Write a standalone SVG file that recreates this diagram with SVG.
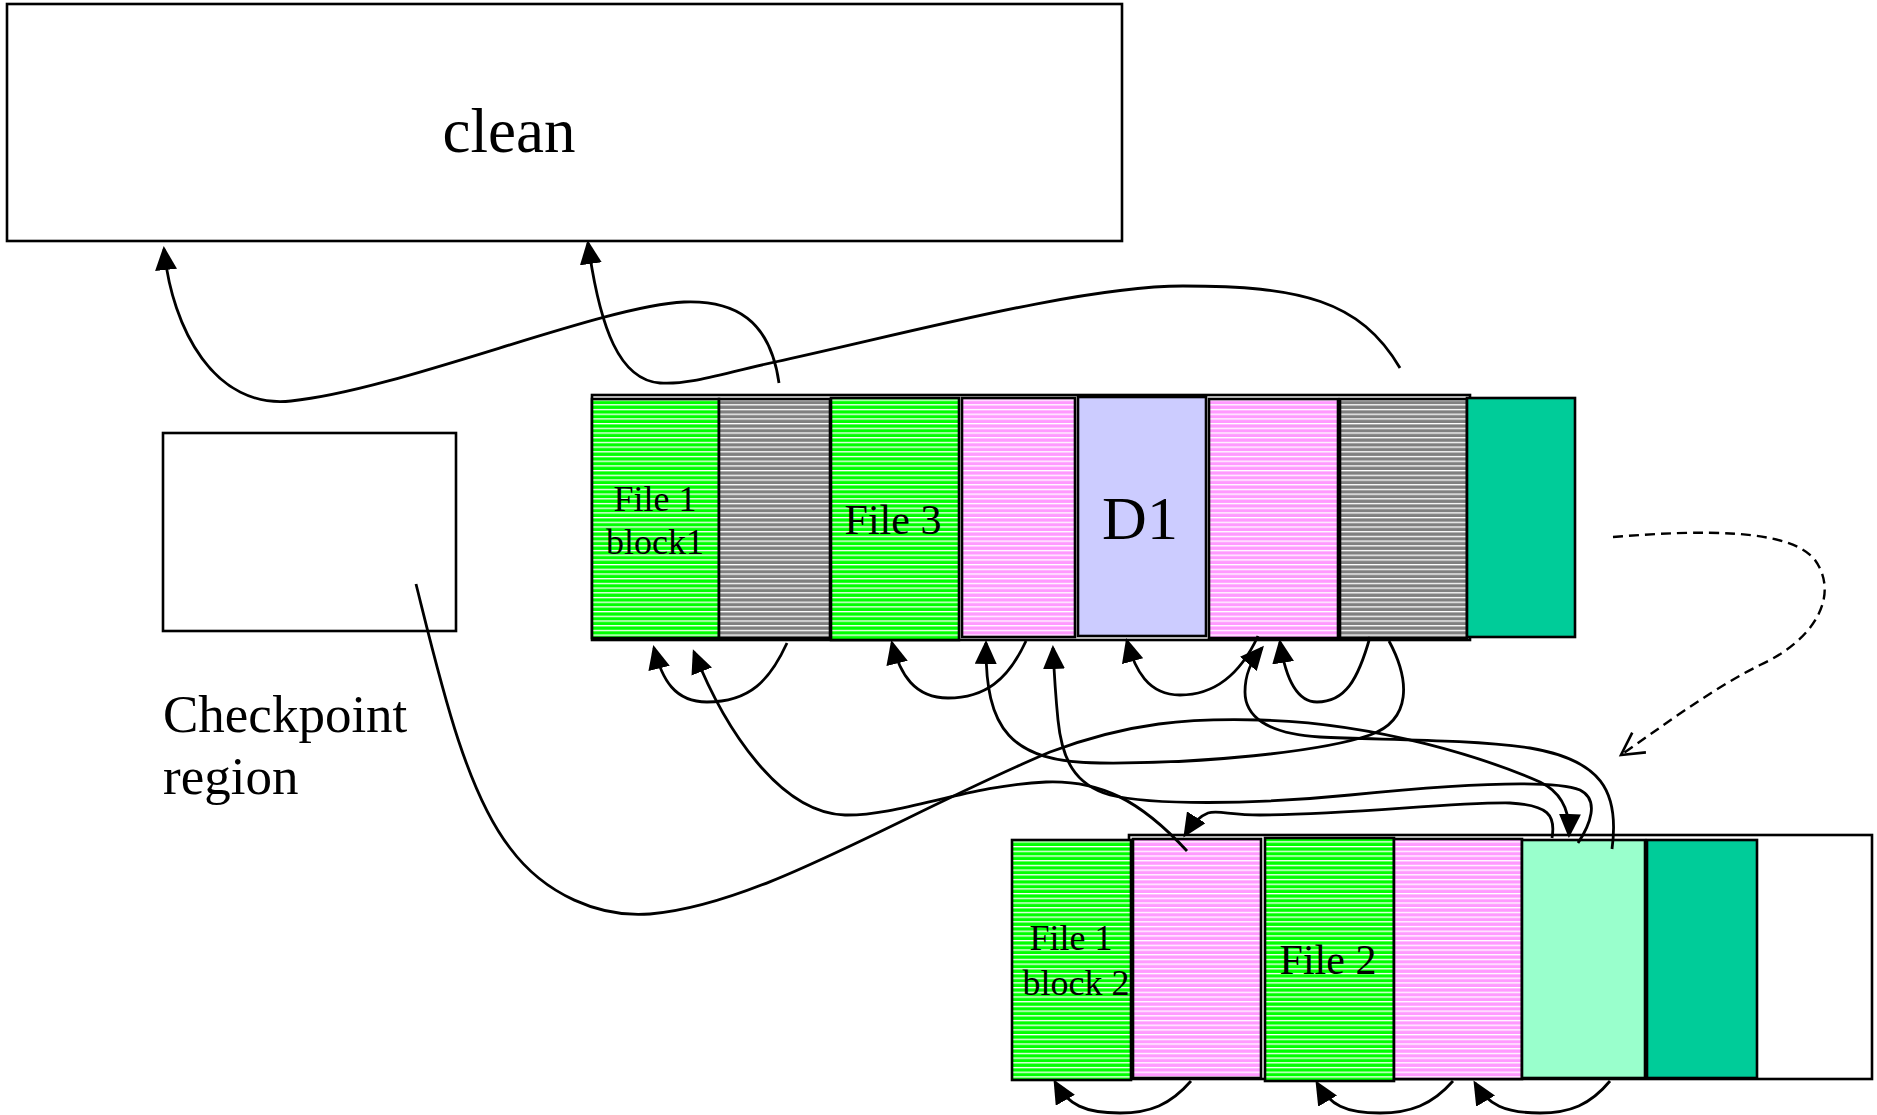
<svg xmlns="http://www.w3.org/2000/svg" width="1877" height="1115" viewBox="0 0 1877 1115">
  <style>
    .box { fill: #ffffff; stroke: #000000; stroke-width: 2.6; }
    .blk { stroke: #000000; stroke-width: 2.6; }
    .lbl { font-family: "Liberation Serif", "Times New Roman", serif; fill: #000000; }
    .mid { text-anchor: middle; }
    .conn { fill: none; stroke: #000000; stroke-width: 2.8; marker-end: url(#head); }
    .dash { fill: none; stroke: #000000; stroke-width: 2.4; stroke-dasharray: 10 6; marker-end: url(#openhead); }
  </style>
  <defs>
    <pattern id="stGreen" patternUnits="userSpaceOnUse" width="10" height="4.7">
      <rect width="10" height="4.7" fill="#00ff00"/>
      <rect width="10" height="1.3" fill="#ffffff"/>
    </pattern>
    <pattern id="stGray" patternUnits="userSpaceOnUse" width="10" height="4.7">
      <rect width="10" height="4.7" fill="#808080"/>
      <rect width="10" height="1.3" fill="#ffffff"/>
    </pattern>
    <pattern id="stPink" patternUnits="userSpaceOnUse" width="10" height="4.7">
      <rect width="10" height="4.7" fill="#ff99ff"/>
      <rect width="10" height="1.3" fill="#ffffff"/>
    </pattern>
    <marker id="head" markerUnits="userSpaceOnUse" viewBox="0 0 24 22" markerWidth="24" markerHeight="22" refX="21" refY="11" orient="auto">
      <path d="M0,0 L24,11 L0,22 z" fill="#000000"/>
    </marker>
    <marker id="openhead" markerUnits="userSpaceOnUse" viewBox="0 0 30 30" markerWidth="30" markerHeight="30" refX="26" refY="15" orient="auto">
      <path d="M4,3 L26,15 L4,27" fill="none" stroke="#000000" stroke-width="2.6"/>
    </marker>
  </defs>

  <rect width="1877" height="1115" fill="#ffffff"/>

  <!-- cleaner -->
  <g id="clean">
    <rect class="box" x="7" y="4" width="1115" height="237"/>
    <text class="lbl mid" x="509" y="152" font-size="63">clean</text>
  </g>

  <!-- checkpoint region -->
  <g id="checkpoint">
    <rect class="box" x="163" y="433" width="293" height="198"/>
    <text class="lbl" x="163" y="732" font-size="53">Checkpoint</text>
    <text class="lbl" x="163" y="794" font-size="53">region</text>
  </g>

  <!-- first log segment -->
  <g id="segment1">
    <rect class="box" x="592" y="395" width="878" height="245"/>
  </g>
  <g id="seg1-file1-block1">
    <rect class="blk" x="592" y="399" width="127" height="239" fill="url(#stGreen)"/>
    <text class="lbl mid" x="655" y="511" font-size="36">File 1</text>
    <text class="lbl mid" x="655" y="554" font-size="36">block1</text>
  </g>
  <g id="seg1-dead1">
    <rect class="blk" x="719" y="399" width="111" height="239" fill="url(#stGray)"/>
  </g>
  <g id="seg1-file3">
    <rect class="blk" x="831" y="398" width="128" height="242" fill="url(#stGreen)"/>
    <text class="lbl mid" x="893" y="534" font-size="42">File 3</text>
  </g>
  <g id="seg1-inode1">
    <rect class="blk" x="962" y="398" width="113" height="239" fill="url(#stPink)"/>
  </g>
  <g id="seg1-d1">
    <rect class="blk" x="1078" y="397" width="128" height="239" fill="#ccccff"/>
    <text class="lbl mid" x="1140" y="539" font-size="62">D1</text>
  </g>
  <g id="seg1-inode2">
    <rect class="blk" x="1209" y="399" width="129" height="239" fill="url(#stPink)"/>
  </g>
  <g id="seg1-dead2">
    <rect class="blk" x="1340" y="399" width="127" height="239" fill="url(#stGray)"/>
  </g>
  <g id="seg1-summary">
    <rect class="blk" x="1467" y="398" width="108" height="239" fill="#00cc99"/>
  </g>

  <!-- second log segment -->
  <g id="segment2">
    <rect class="box" x="1129" y="835" width="743" height="244"/>
  </g>
  <g id="seg2-file1-block2">
    <rect class="blk" x="1012" y="840" width="119" height="240" fill="url(#stGreen)"/>
    <text class="lbl mid" x="1071" y="950" font-size="36">File 1</text>
    <text class="lbl mid" x="1076" y="995" font-size="36">block 2</text>
  </g>
  <g id="seg2-inode1">
    <rect class="blk" x="1133" y="839" width="128" height="239" fill="url(#stPink)"/>
  </g>
  <g id="seg2-file2">
    <rect class="blk" x="1265" y="838" width="129" height="243" fill="url(#stGreen)"/>
    <text class="lbl mid" x="1328" y="974" font-size="42">File 2</text>
  </g>
  <g id="seg2-inode2">
    <rect class="blk" x="1394" y="839" width="128" height="240" fill="url(#stPink)"/>
  </g>
  <g id="seg2-imap">
    <rect class="blk" x="1522" y="840" width="123" height="238" fill="#99ffcc"/>
  </g>
  <g id="seg2-summary">
    <rect class="blk" x="1647" y="840" width="110" height="238" fill="#00cc99"/>
  </g>

  <!-- pointers -->
  <g id="connectors">
    <!-- dead blocks read by the cleaner -->
    <path class="conn" d="M779,383 C770,320 735,300 684,302 C600,306 400,390 291,401 C215,409 172,330 164,249"/>
    <path class="conn" d="M1400,368 C1360,300 1300,286 1183,286 C1080,286 900,335 775,362 C720,374 690,385 660,383 C620,380 600,330 588,243"/>

    <!-- pointers inside segment 1 -->
    <path class="conn" d="M787,643 C770,680 750,702 707,702 C675,702 662,680 654,648"/>
    <path class="conn" d="M1026,641 C1008,680 985,698 948,698 C915,698 900,675 892,643"/>
    <path class="conn" d="M1258,636 C1240,675 1215,695 1180,695 C1148,695 1135,670 1127,641"/>
    <path class="conn" d="M1370,637 C1358,680 1345,702 1317,702 C1295,702 1285,675 1280,642"/>

    <!-- pointers between segments -->
    <path class="conn" d="M1187,851 C1140,800 1100,780 1046,782 C970,785 900,816 845,815 C780,813 725,730 694,652"/>
    <path class="conn" d="M416,584 C440,680 465,790 510,848 C545,895 600,918 650,914 C760,905 900,815 1050,752 C1130,722 1190,718 1260,720 C1380,723 1490,760 1540,782 C1563,793 1570,812 1569,835"/>
    <path class="conn" d="M1389,641 C1410,680 1412,720 1370,735 C1320,752 1200,764 1100,763 C1010,762 985,730 986,643"/>
    <path class="conn" d="M1612,849 C1620,790 1600,760 1530,748 C1470,739 1380,740 1320,737 C1265,734 1245,715 1245,692 C1245,675 1250,662 1262,648"/>
    <path class="conn" d="M1578,843 C1590,825 1600,800 1580,790 C1550,778 1450,785 1350,795 C1250,805 1150,805 1110,795 C1075,785 1062,760 1058,720 C1056,700 1054,670 1053,648"/>
    <path class="conn" d="M1552,838 C1556,815 1548,805 1510,803 C1450,802 1350,815 1260,815 C1230,815 1218,810 1208,813 C1200,816 1192,824 1185,835"/>

    <!-- pointers inside segment 2 -->
    <path class="conn" d="M1191,1081 C1170,1105 1150,1113 1120,1113 C1085,1113 1068,1105 1055,1082"/>
    <path class="conn" d="M1453,1081 C1432,1105 1410,1113 1380,1113 C1345,1113 1330,1105 1317,1083"/>
    <path class="conn" d="M1610,1081 C1590,1105 1570,1113 1540,1113 C1505,1113 1488,1105 1475,1083"/>

    <!-- segment 1 rewritten as segment 2 -->
    <path class="dash" d="M1613,537 C1700,530 1790,528 1815,560 C1840,595 1815,640 1760,665 C1710,690 1660,728 1621,755"/>
  </g>
</svg>
